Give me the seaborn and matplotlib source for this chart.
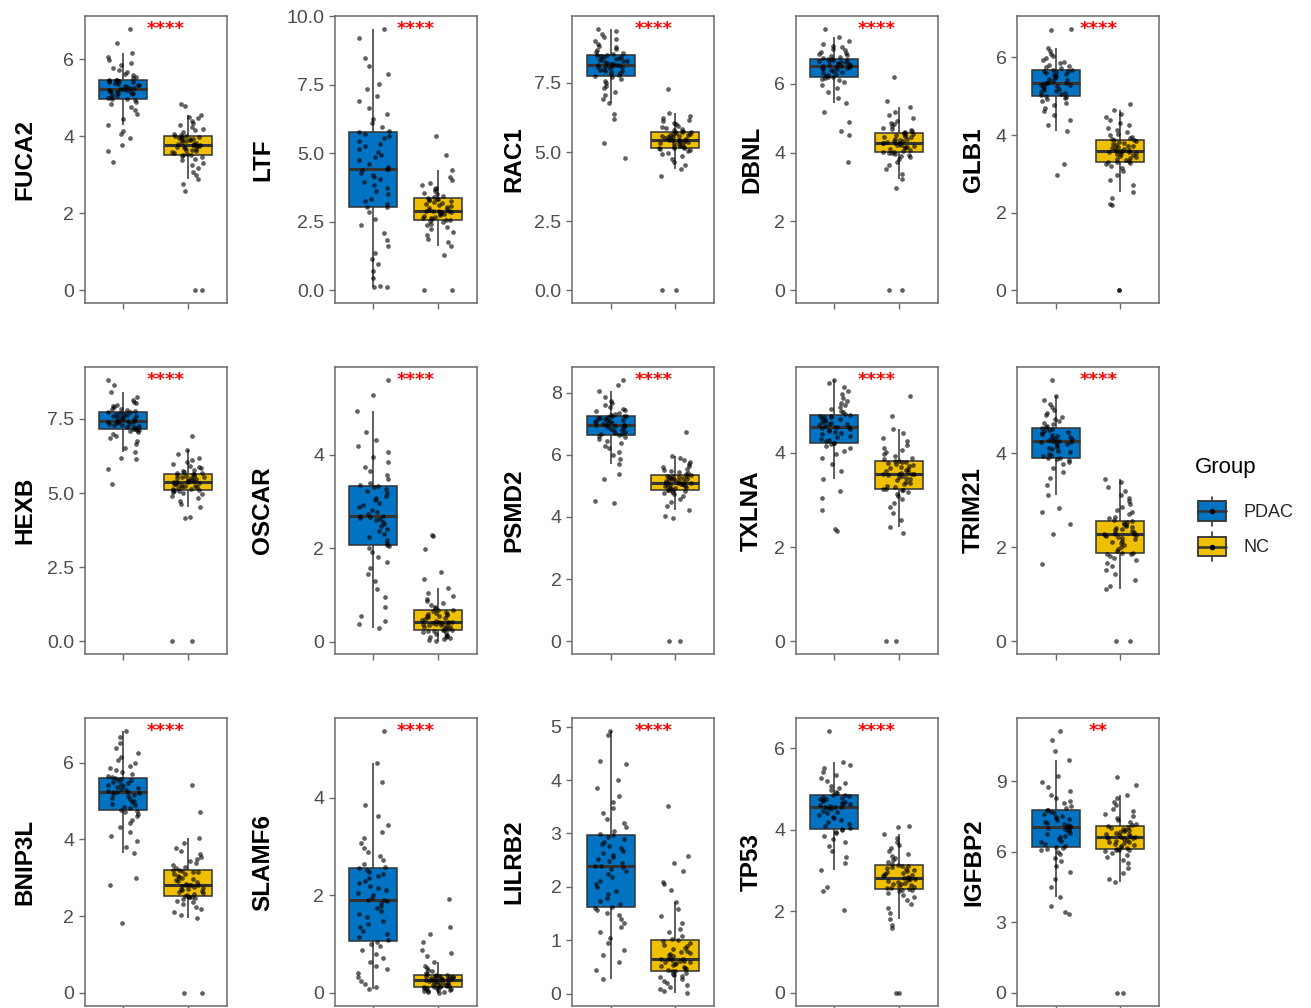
import numpy as np
import pandas as pd
import matplotlib
matplotlib.use("Agg")
import matplotlib.pyplot as plt
import seaborn as sns
from matplotlib.patches import Rectangle, Patch
from matplotlib.lines import Line2D
from matplotlib.legend_handler import HandlerBase

# ---------------------------------------------------------------- data
GROUPS = ["PDAC", "NC"]
GENES = ["FUCA2", "LTF", "RAC1", "DBNL", "GLB1",
         "HEXB", "OSCAR", "PSMD2", "TXLNA", "TRIM21",
         "BNIP3L", "SLAMF6", "LILRB2", "TP53", "IGFBP2"]
SIGNIF = ["****", "****", "****", "****", "****",
          "****", "****", "****", "****", "****",
          "****", "****", "****", "****", "**"]
TICK_STEP = [2, 2.5, 2.5, 2, 2,
             2.5, 2, 2, 2, 2,
             2, 2, 1, 2, 3]

FUCA2_PDAC = [3.34, 3.61, 3.78, 3.95, 4.05, 4.13, 4.30, 4.45, 4.58, 4.68, 4.76, 4.83, 4.89, 4.93, 4.96,
              4.97, 4.99, 5.02, 5.05, 5.07, 5.09, 5.11, 5.13, 5.15, 5.16, 5.17, 5.18, 5.19, 5.21, 5.22,
              5.22, 5.24, 5.26, 5.28, 5.30, 5.32, 5.34, 5.36, 5.38, 5.40, 5.42, 5.43, 5.44, 5.45, 5.46,
              5.47, 5.50, 5.54, 5.58, 5.62, 5.67, 5.72, 5.78, 5.84, 5.90, 5.97, 6.05, 6.17, 6.41, 6.79]
FUCA2_NC = [0.0, 0.0, 2.58, 2.75, 2.88, 2.98, 3.08, 3.17, 3.25, 3.31, 3.37, 3.42, 3.46, 3.49, 3.51,
            3.52, 3.54, 3.57, 3.59, 3.61, 3.63, 3.65, 3.67, 3.69, 3.71, 3.72, 3.74, 3.75, 3.76, 3.77,
            3.77, 3.79, 3.81, 3.83, 3.85, 3.87, 3.89, 3.90, 3.92, 3.94, 3.95, 3.96, 3.98, 3.99, 4.00,
            4.01, 4.04, 4.07, 4.11, 4.15, 4.19, 4.24, 4.29, 4.34, 4.40, 4.46, 4.51, 4.56, 4.78, 4.84]

LTF_PDAC = [0.10, 0.12, 0.15, 0.45, 0.70, 0.95, 1.15, 1.35, 1.60, 1.85, 2.10, 2.40, 2.60, 2.85, 3.03,
            3.05, 3.15, 3.25, 3.35, 3.50, 3.62, 3.75, 3.85, 3.95, 4.05, 4.15, 4.22, 4.30, 4.38, 4.42,
            4.42, 4.50, 4.62, 4.75, 4.85, 4.95, 5.05, 5.15, 5.25, 5.35, 5.45, 5.55, 5.62, 5.70, 5.78,
            5.80, 5.95, 6.10, 6.25, 6.45, 6.65, 6.90, 7.10, 7.35, 7.55, 7.90, 8.20, 8.50, 9.20, 9.55]
LTF_NC = [0.0, 0.0, 1.30, 1.61, 1.75, 1.88, 2.00, 2.12, 2.22, 2.30, 2.37, 2.43, 2.48, 2.52, 2.55,
          2.56, 2.59, 2.62, 2.65, 2.68, 2.71, 2.74, 2.77, 2.80, 2.83, 2.85, 2.87, 2.89, 2.90, 2.91,
          2.91, 2.94, 2.97, 3.00, 3.04, 3.08, 3.12, 3.16, 3.20, 3.23, 3.26, 3.29, 3.31, 3.33, 3.35,
          3.36, 3.40, 3.45, 3.50, 3.56, 3.62, 3.68, 3.75, 3.83, 3.92, 4.02, 4.15, 4.40, 4.95, 5.64]

RAC1_PDAC = [4.79, 5.31, 6.21, 6.36, 6.78, 6.92, 7.05, 7.18, 7.30, 7.40, 7.50, 7.58, 7.65, 7.71, 7.75,
             7.77, 7.81, 7.85, 7.89, 7.92, 7.95, 7.98, 8.01, 8.04, 8.07, 8.09, 8.11, 8.13, 8.15, 8.16,
             8.16, 8.18, 8.20, 8.23, 8.25, 8.28, 8.30, 8.33, 8.36, 8.38, 8.41, 8.43, 8.45, 8.48, 8.50,
             8.51, 8.55, 8.59, 8.63, 8.68, 8.73, 8.79, 8.85, 8.92, 9.00, 9.08, 9.17, 9.27, 9.38, 9.46]
RAC1_NC = [0.0, 0.0, 4.13, 4.37, 4.52, 4.65, 4.76, 4.85, 4.92, 4.98, 5.03, 5.07, 5.10, 5.13, 5.15,
           5.16, 5.18, 5.21, 5.23, 5.26, 5.28, 5.31, 5.33, 5.35, 5.37, 5.39, 5.41, 5.43, 5.44, 5.45,
           5.45, 5.47, 5.49, 5.51, 5.53, 5.55, 5.57, 5.59, 5.61, 5.63, 5.65, 5.67, 5.69, 5.71, 5.72,
           5.73, 5.76, 5.80, 5.84, 5.88, 5.92, 5.96, 6.01, 6.06, 6.11, 6.17, 6.23, 6.30, 6.42, 7.28]

DBNL_PDAC = [3.73, 4.50, 4.63, 4.90, 5.18, 5.43, 5.60, 5.75, 5.87, 5.96, 6.04, 6.10, 6.14, 6.17, 6.19,
             6.20, 6.23, 6.26, 6.29, 6.32, 6.35, 6.37, 6.40, 6.42, 6.44, 6.46, 6.47, 6.49, 6.50, 6.51,
             6.51, 6.53, 6.54, 6.56, 6.58, 6.59, 6.61, 6.62, 6.64, 6.66, 6.67, 6.69, 6.70, 6.72, 6.73,
             6.74, 6.77, 6.80, 6.83, 6.86, 6.89, 6.93, 6.97, 7.01, 7.06, 7.11, 7.17, 7.25, 7.36, 7.60]
DBNL_NC = [0.0, 0.0, 2.98, 3.22, 3.38, 3.52, 3.63, 3.72, 3.80, 3.86, 3.91, 3.94, 3.97, 3.99, 4.00,
           4.01, 4.03, 4.06, 4.08, 4.10, 4.12, 4.15, 4.17, 4.19, 4.21, 4.23, 4.25, 4.27, 4.28, 4.29,
           4.29, 4.31, 4.33, 4.35, 4.37, 4.39, 4.41, 4.44, 4.46, 4.48, 4.50, 4.52, 4.54, 4.56, 4.58,
           4.59, 4.62, 4.65, 4.69, 4.73, 4.77, 4.82, 4.87, 4.93, 5.00, 5.08, 5.18, 5.33, 5.50, 6.20]

GLB1_PDAC = [2.97, 3.25, 4.10, 4.25, 4.40, 4.52, 4.62, 4.70, 4.77, 4.83, 4.88, 4.93, 4.96, 4.99, 5.01,
             5.02, 5.05, 5.08, 5.11, 5.14, 5.17, 5.19, 5.22, 5.24, 5.26, 5.28, 5.30, 5.32, 5.34, 5.35,
             5.35, 5.37, 5.40, 5.42, 5.45, 5.47, 5.50, 5.52, 5.55, 5.57, 5.60, 5.62, 5.64, 5.66, 5.68,
             5.69, 5.72, 5.75, 5.78, 5.81, 5.85, 5.89, 5.93, 5.98, 6.03, 6.09, 6.17, 6.25, 6.72, 6.74]
GLB1_NC = [0.0, 0.0, 2.19, 2.21, 2.38, 2.53, 2.70, 2.85, 2.97, 3.07, 3.15, 3.21, 3.25, 3.28, 3.30,
           3.31, 3.33, 3.36, 3.38, 3.41, 3.43, 3.46, 3.48, 3.50, 3.52, 3.54, 3.56, 3.57, 3.58, 3.59,
           3.59, 3.61, 3.63, 3.65, 3.67, 3.69, 3.71, 3.73, 3.75, 3.77, 3.79, 3.81, 3.84, 3.86, 3.88,
           3.89, 3.92, 3.96, 4.00, 4.04, 4.09, 4.14, 4.19, 4.25, 4.31, 4.38, 4.46, 4.55, 4.64, 4.80]

HEXB_PDAC = [5.32, 5.82, 6.14, 6.18, 6.38, 6.52, 6.65, 6.76, 6.85, 6.93, 7.00, 7.05, 7.09, 7.12, 7.14,
             7.15, 7.17, 7.19, 7.21, 7.24, 7.26, 7.28, 7.30, 7.32, 7.34, 7.36, 7.38, 7.40, 7.41, 7.42,
             7.42, 7.44, 7.46, 7.48, 7.50, 7.52, 7.55, 7.57, 7.59, 7.61, 7.63, 7.66, 7.68, 7.70, 7.72,
             7.73, 7.76, 7.79, 7.82, 7.85, 7.89, 7.93, 7.97, 8.02, 8.08, 8.15, 8.24, 8.40, 8.66, 8.82]
HEXB_NC = [0.0, 0.0, 4.15, 4.20, 4.53, 4.64, 4.74, 4.82, 4.89, 4.95, 5.00, 5.03, 5.06, 5.08, 5.09,
           5.10, 5.12, 5.14, 5.16, 5.19, 5.21, 5.23, 5.25, 5.27, 5.29, 5.31, 5.33, 5.35, 5.36, 5.37,
           5.37, 5.39, 5.41, 5.43, 5.45, 5.47, 5.49, 5.51, 5.53, 5.55, 5.57, 5.59, 5.61, 5.63, 5.65,
           5.66, 5.69, 5.72, 5.75, 5.79, 5.83, 5.87, 5.92, 5.97, 6.03, 6.10, 6.18, 6.30, 6.45, 6.92]

OSCAR_PDAC = [0.30, 0.38, 0.45, 0.55, 0.75, 0.95, 1.12, 1.30, 1.45, 1.58, 1.70, 1.82, 1.92, 2.00, 2.05,
              2.07, 2.12, 2.18, 2.24, 2.30, 2.36, 2.42, 2.47, 2.52, 2.56, 2.60, 2.63, 2.65, 2.67, 2.68,
              2.68, 2.72, 2.77, 2.82, 2.87, 2.92, 2.97, 3.02, 3.07, 3.12, 3.17, 3.22, 3.26, 3.30, 3.32,
              3.34, 3.40, 3.48, 3.56, 3.65, 3.74, 3.84, 3.94, 4.05, 4.18, 4.32, 4.48, 4.94, 5.28, 5.60]
OSCAR_NC = [0.01, 0.03, 0.05, 0.07, 0.09, 0.11, 0.13, 0.15, 0.17, 0.19, 0.20, 0.22, 0.23, 0.24, 0.25,
            0.26, 0.28, 0.29, 0.31, 0.32, 0.34, 0.35, 0.36, 0.37, 0.38, 0.39, 0.40, 0.41, 0.42, 0.43,
            0.43, 0.45, 0.47, 0.48, 0.50, 0.52, 0.54, 0.55, 0.57, 0.59, 0.60, 0.62, 0.64, 0.65, 0.67,
            0.68, 0.71, 0.74, 0.78, 0.82, 0.87, 0.92, 0.98, 1.05, 1.14, 1.35, 1.50, 1.99, 2.25, 2.29]

PSMD2_PDAC = [4.46, 4.50, 5.23, 5.39, 5.70, 5.85, 5.98, 6.10, 6.20, 6.29, 6.37, 6.44, 6.50, 6.56, 6.61,
              6.62, 6.65, 6.68, 6.71, 6.74, 6.77, 6.80, 6.83, 6.86, 6.89, 6.91, 6.93, 6.95, 6.96, 6.97,
              6.97, 6.99, 7.01, 7.03, 7.05, 7.07, 7.09, 7.11, 7.13, 7.15, 7.17, 7.19, 7.21, 7.23, 7.24,
              7.25, 7.28, 7.31, 7.35, 7.39, 7.43, 7.48, 7.53, 7.59, 7.66, 7.74, 7.84, 8.05, 8.25, 8.41]
PSMD2_NC = [0.0, 0.0, 3.95, 4.02, 4.21, 4.36, 4.48, 4.58, 4.66, 4.72, 4.77, 4.81, 4.84, 4.86, 4.87,
            4.88, 4.90, 4.92, 4.94, 4.96, 4.98, 5.00, 5.02, 5.04, 5.05, 5.06, 5.07, 5.08, 5.09, 5.10,
            5.10, 5.12, 5.14, 5.16, 5.18, 5.20, 5.21, 5.23, 5.25, 5.26, 5.28, 5.29, 5.31, 5.32, 5.33,
            5.34, 5.37, 5.40, 5.43, 5.47, 5.51, 5.55, 5.60, 5.65, 5.71, 5.77, 5.84, 5.90, 5.97, 6.74]

TXLNA_PDAC = [2.33, 2.38, 2.79, 3.03, 3.19, 3.44, 3.62, 3.76, 3.88, 3.97, 4.04, 4.10, 4.14, 4.18, 4.20,
              4.21, 4.24, 4.27, 4.30, 4.33, 4.36, 4.39, 4.42, 4.44, 4.46, 4.48, 4.50, 4.52, 4.54, 4.55,
              4.55, 4.57, 4.59, 4.61, 4.62, 4.64, 4.66, 4.68, 4.70, 4.71, 4.73, 4.75, 4.76, 4.78, 4.79,
              4.80, 4.83, 4.86, 4.89, 4.93, 4.97, 5.01, 5.06, 5.11, 5.17, 5.24, 5.32, 5.40, 5.48, 5.55]
TXLNA_NC = [0.0, 0.0, 2.30, 2.43, 2.58, 2.72, 2.84, 2.94, 3.02, 3.08, 3.13, 3.17, 3.20, 3.22, 3.23,
            3.24, 3.27, 3.30, 3.33, 3.36, 3.39, 3.42, 3.44, 3.46, 3.48, 3.50, 3.52, 3.54, 3.55, 3.56,
            3.56, 3.58, 3.60, 3.62, 3.64, 3.66, 3.68, 3.70, 3.72, 3.74, 3.76, 3.78, 3.80, 3.81, 3.82,
            3.83, 3.86, 3.89, 3.93, 3.97, 4.01, 4.06, 4.11, 4.17, 4.24, 4.32, 4.41, 4.50, 4.78, 5.21]

TRIM21_PDAC = [1.65, 2.28, 2.49, 2.75, 2.84, 3.10, 3.32, 3.48, 3.60, 3.69, 3.76, 3.81, 3.85, 3.87, 3.89,
               3.90, 3.93, 3.96, 3.99, 4.02, 4.05, 4.08, 4.11, 4.14, 4.17, 4.19, 4.21, 4.23, 4.24, 4.25,
               4.25, 4.27, 4.29, 4.31, 4.33, 4.35, 4.37, 4.39, 4.41, 4.43, 4.45, 4.47, 4.50, 4.52, 4.54,
               4.55, 4.58, 4.61, 4.64, 4.68, 4.72, 4.76, 4.81, 4.86, 4.92, 4.98, 5.05, 5.13, 5.21, 5.56]
TRIM21_NC = [0.0, 0.0, 1.12, 1.18, 1.30, 1.42, 1.52, 1.60, 1.67, 1.73, 1.78, 1.82, 1.85, 1.86, 1.87,
             1.88, 1.92, 1.96, 2.00, 2.04, 2.08, 2.11, 2.14, 2.17, 2.19, 2.21, 2.23, 2.25, 2.26, 2.27,
             2.27, 2.29, 2.31, 2.33, 2.35, 2.37, 2.39, 2.41, 2.43, 2.45, 2.47, 2.49, 2.51, 2.54, 2.56,
             2.57, 2.61, 2.65, 2.70, 2.75, 2.80, 2.86, 2.92, 2.98, 3.05, 3.12, 3.20, 3.28, 3.38, 3.45]

BNIP3L_PDAC = [1.82, 2.80, 3.00, 3.66, 3.80, 3.95, 4.08, 4.20, 4.32, 4.42, 4.52, 4.60, 4.67, 4.72, 4.75,
               4.77, 4.81, 4.85, 4.89, 4.93, 4.97, 5.01, 5.05, 5.09, 5.13, 5.16, 5.19, 5.22, 5.24, 5.25,
               5.25, 5.27, 5.30, 5.32, 5.35, 5.37, 5.40, 5.43, 5.45, 5.48, 5.51, 5.54, 5.56, 5.59, 5.61,
               5.62, 5.66, 5.70, 5.75, 5.80, 5.86, 5.92, 5.99, 6.07, 6.16, 6.26, 6.38, 6.52, 6.68, 6.82]
BNIP3L_NC = [0.0, 0.0, 1.94, 2.02, 2.10, 2.18, 2.25, 2.31, 2.36, 2.40, 2.44, 2.47, 2.49, 2.50, 2.51,
             2.52, 2.55, 2.58, 2.61, 2.63, 2.65, 2.67, 2.70, 2.72, 2.74, 2.76, 2.78, 2.80, 2.81, 2.82,
             2.82, 2.85, 2.88, 2.91, 2.94, 2.97, 3.00, 3.03, 3.06, 3.09, 3.11, 3.14, 3.16, 3.18, 3.20,
             3.21, 3.25, 3.29, 3.33, 3.38, 3.43, 3.49, 3.55, 3.62, 3.70, 3.79, 3.90, 4.05, 4.71, 5.42]

SLAMF6_PDAC = [0.08, 0.12, 0.18, 0.25, 0.32, 0.40, 0.48, 0.56, 0.64, 0.72, 0.80, 0.88, 0.95, 1.01, 1.05,
               1.08, 1.14, 1.20, 1.27, 1.34, 1.41, 1.48, 1.55, 1.62, 1.68, 1.74, 1.79, 1.84, 1.88, 1.90,
               1.90, 1.95, 2.00, 2.05, 2.10, 2.15, 2.20, 2.25, 2.30, 2.35, 2.40, 2.44, 2.48, 2.52, 2.56,
               2.58, 2.65, 2.72, 2.80, 2.88, 2.97, 3.07, 3.18, 3.30, 3.45, 3.62, 3.85, 4.32, 4.71, 5.36]
SLAMF6_NC = [0.00, 0.01, 0.02, 0.03, 0.04, 0.05, 0.06, 0.07, 0.08, 0.09, 0.10, 0.10, 0.11, 0.12, 0.12,
             0.13, 0.14, 0.15, 0.16, 0.17, 0.18, 0.19, 0.20, 0.21, 0.22, 0.23, 0.24, 0.25, 0.26, 0.27,
             0.27, 0.28, 0.28, 0.29, 0.30, 0.30, 0.31, 0.32, 0.32, 0.33, 0.33, 0.34, 0.35, 0.35, 0.36,
             0.37, 0.39, 0.41, 0.44, 0.47, 0.51, 0.56, 0.64, 0.76, 0.82, 0.88, 1.05, 1.20, 1.34, 1.92]

LILRB2_PDAC = [0.28, 0.45, 0.60, 0.72, 0.82, 0.95, 1.05, 1.15, 1.25, 1.33, 1.40, 1.47, 1.52, 1.57, 1.61,
               1.63, 1.68, 1.74, 1.80, 1.87, 1.93, 2.00, 2.06, 2.12, 2.18, 2.24, 2.29, 2.33, 2.37, 2.40,
               2.40, 2.44, 2.48, 2.52, 2.56, 2.60, 2.64, 2.68, 2.72, 2.76, 2.80, 2.85, 2.89, 2.93, 2.97,
               2.99, 3.05, 3.12, 3.20, 3.28, 3.38, 3.48, 3.58, 3.70, 3.85, 4.00, 4.30, 4.35, 4.85, 4.91]
LILRB2_NC = [0.02, 0.05, 0.09, 0.13, 0.17, 0.21, 0.25, 0.28, 0.31, 0.34, 0.36, 0.38, 0.40, 0.42, 0.43,
             0.44, 0.46, 0.48, 0.50, 0.52, 0.54, 0.56, 0.58, 0.59, 0.60, 0.61, 0.62, 0.64, 0.65, 0.66,
             0.66, 0.68, 0.70, 0.72, 0.74, 0.77, 0.79, 0.81, 0.84, 0.86, 0.89, 0.92, 0.95, 0.98, 1.01,
             1.03, 1.08, 1.15, 1.22, 1.32, 1.45, 1.58, 1.72, 1.95, 2.05, 2.10, 2.30, 2.45, 2.58, 3.51]

TP53_PDAC = [2.04, 2.50, 2.59, 3.00, 3.18, 3.34, 3.48, 3.60, 3.70, 3.78, 3.85, 3.91, 3.95, 3.98, 4.01,
             4.03, 4.08, 4.13, 4.18, 4.23, 4.28, 4.32, 4.36, 4.40, 4.44, 4.47, 4.50, 4.53, 4.55, 4.56,
             4.56, 4.58, 4.60, 4.62, 4.64, 4.66, 4.68, 4.70, 4.72, 4.74, 4.76, 4.78, 4.80, 4.82, 4.84,
             4.85, 4.89, 4.93, 4.98, 5.03, 5.08, 5.14, 5.20, 5.27, 5.34, 5.42, 5.50, 5.58, 5.65, 6.41]
TP53_NC = [0.0, 0.0, 1.60, 1.66, 1.82, 1.96, 2.08, 2.18, 2.27, 2.34, 2.40, 2.45, 2.49, 2.51, 2.53,
           2.54, 2.56, 2.58, 2.60, 2.62, 2.64, 2.66, 2.68, 2.70, 2.72, 2.74, 2.76, 2.78, 2.80, 2.82,
           2.82, 2.84, 2.86, 2.88, 2.90, 2.92, 2.94, 2.96, 2.98, 3.00, 3.03, 3.05, 3.08, 3.10, 3.12,
           3.13, 3.17, 3.21, 3.25, 3.30, 3.35, 3.41, 3.47, 3.54, 3.62, 3.70, 3.80, 3.89, 4.06, 4.08]

IGFBP2_PDAC = [3.33, 3.45, 3.70, 4.08, 4.50, 4.85, 5.15, 5.40, 5.60, 5.75, 5.88, 5.98, 6.06, 6.12, 6.16,
               6.19, 6.26, 6.33, 6.40, 6.47, 6.54, 6.61, 6.68, 6.75, 6.81, 6.87, 6.92, 6.97, 7.01, 7.03,
               7.03, 7.08, 7.13, 7.18, 7.23, 7.28, 7.33, 7.38, 7.43, 7.48, 7.53, 7.58, 7.64, 7.70, 7.76,
               7.79, 7.87, 7.96, 8.06, 8.17, 8.29, 8.42, 8.57, 8.74, 8.95, 9.20, 9.91, 10.27, 10.76, 11.11]
IGFBP2_NC = [0.0, 0.0, 4.71, 4.85, 5.10, 5.32, 5.50, 5.65, 5.77, 5.87, 5.95, 6.01, 6.05, 6.08, 6.09,
             6.11, 6.15, 6.19, 6.23, 6.27, 6.31, 6.35, 6.39, 6.43, 6.47, 6.51, 6.54, 6.57, 6.59, 6.61,
             6.61, 6.64, 6.67, 6.70, 6.73, 6.76, 6.79, 6.83, 6.86, 6.90, 6.94, 6.98, 7.02, 7.06, 7.10,
             7.12, 7.18, 7.25, 7.33, 7.41, 7.50, 7.60, 7.71, 7.83, 7.97, 8.12, 8.28, 8.40, 8.83, 9.18]

EXPRESSION = {
    "FUCA2": (FUCA2_PDAC, FUCA2_NC), "LTF": (LTF_PDAC, LTF_NC),
    "RAC1": (RAC1_PDAC, RAC1_NC), "DBNL": (DBNL_PDAC, DBNL_NC),
    "GLB1": (GLB1_PDAC, GLB1_NC), "HEXB": (HEXB_PDAC, HEXB_NC),
    "OSCAR": (OSCAR_PDAC, OSCAR_NC), "PSMD2": (PSMD2_PDAC, PSMD2_NC),
    "TXLNA": (TXLNA_PDAC, TXLNA_NC), "TRIM21": (TRIM21_PDAC, TRIM21_NC),
    "BNIP3L": (BNIP3L_PDAC, BNIP3L_NC), "SLAMF6": (SLAMF6_PDAC, SLAMF6_NC),
    "LILRB2": (LILRB2_PDAC, LILRB2_NC), "TP53": (TP53_PDAC, TP53_NC),
    "IGFBP2": (IGFBP2_PDAC, IGFBP2_NC),
}

# ---------------------------------------------------------------- style
PALETTE = {"PDAC": "#0073C2", "NC": "#EFC000"}
EDGE = "#333333"
FRAME = "#6a6a6a"

sns.set_theme(style="white")
plt.rcParams["font.family"] = ["Liberation Sans", "DejaVu Sans"]

W, H = 1311, 1008
fig = plt.figure(figsize=(W / 100, H / 100), dpi=100)

# panel layout in pixels
COL_LEFT = [84.5, 334.5, 572.0, 795.5, 1017.0]
ROW_TOP = [15.7, 366.7, 718.3]
PANEL_W, PANEL_H = 142.0, 287.6
LABEL_CX = [24.5, 262.5, 513.5, 751.5, 973.5]

np.random.seed(11)

for i, gene in enumerate(GENES):
    r, c = divmod(i, 5)
    left, top = COL_LEFT[c], ROW_TOP[r]
    ax = fig.add_axes([left / W, 1 - (top + PANEL_H) / H, PANEL_W / W, PANEL_H / H])

    pdac, nc = EXPRESSION[gene]
    df = pd.DataFrame({
        "Group": ["PDAC"] * len(pdac) + ["NC"] * len(nc),
        "value": list(pdac) + list(nc),
    })

    sns.boxplot(data=df, x="Group", y="value", hue="Group", order=GROUPS,
                hue_order=GROUPS, palette=PALETTE, dodge=False, width=0.75,
                saturation=1, showfliers=False, linecolor=EDGE, linewidth=1.1,
                medianprops=dict(color=EDGE, linewidth=2.2),
                capprops=dict(linewidth=0), legend=False, ax=ax)
    sns.stripplot(data=df, x="Group", y="value", order=GROUPS, color="black",
                  size=3.4, alpha=0.62, jitter=0.25, linewidth=0, zorder=3, ax=ax)

    vmin, vmax = df["value"].min(), df["value"].max()
    span = vmax - vmin
    ax.set_ylim(vmin - 0.05 * span, vmax + 0.05 * span)
    ax.set_xlim(-0.6, 1.6)

    step = TICK_STEP[i]
    ticks = np.arange(0, vmax + 0.05 * span + 1e-9, step)
    dec = 0 if float(step).is_integer() else 1
    ax.set_yticks(ticks)
    ax.set_yticklabels([f"{t:.{dec}f}" for t in ticks])
    ax.set_xticks([0, 1])
    ax.set_xticklabels([])
    ax.set_xlabel("")

    ax.set_ylabel(gene, fontsize=17.5, fontweight="bold", color="black")
    ax.yaxis.label.set_verticalalignment("center")
    ax.yaxis.set_label_coords((LABEL_CX[c] - left) / PANEL_W, 0.5)

    ax.tick_params(axis="both", which="both", direction="out", length=4.5,
                   width=1.0, color=FRAME, labelsize=14, labelcolor="#4D4D4D",
                   pad=3, left=True, bottom=True)
    for s in ax.spines.values():
        s.set_visible(True)
        s.set_color(FRAME)
        s.set_linewidth(1.1)

    ax.text(0.66, vmax, SIGNIF[i], color="#FF0000", ha="center", va="center",
            fontsize=13, fontweight="bold", family="DejaVu Sans", zorder=4)


# ---------------------------------------------------------------- legend
class BoxKey(HandlerBase):
    def create_artists(self, legend, orig_handle, xdescent, ydescent,
                       width, height, fontsize, trans):
        x0, y0 = -xdescent, -ydescent
        cx, cy = x0 + width / 2, y0 + height / 2
        bw, bh = width, height * 0.68
        whisker = Line2D([cx, cx], [y0, y0 + height], color=EDGE, lw=1.2,
                         transform=trans)
        box = Rectangle((cx - bw / 2, cy - bh / 2), bw, bh,
                        facecolor=orig_handle.get_facecolor(), edgecolor=EDGE,
                        lw=1.3, transform=trans)
        median = Line2D([cx - bw / 2, cx + bw / 2], [cy, cy], color=EDGE,
                        lw=1.8, transform=trans)
        dot = Line2D([cx], [cy], marker="o", ms=3, color="black", lw=0,
                     transform=trans)
        return [whisker, box, median, dot]


fig.text(1195 / W, 1 - 468 / H, "Group", fontsize=16, ha="left", va="center",
         color="black")
handles = [Patch(facecolor=PALETTE[g], label=g) for g in GROUPS]
leg = fig.legend(handles=handles, labels=GROUPS,
                 handler_map={Patch: BoxKey()}, loc="upper left",
                 bbox_to_anchor=(1185 / W, 1 - 484 / H), frameon=False,
                 fontsize=13, handlelength=1.55, handleheight=2.09,
                 labelspacing=0.36, handletextpad=1.0, borderpad=0.2)

fig.savefig("out.png", dpi=100)
